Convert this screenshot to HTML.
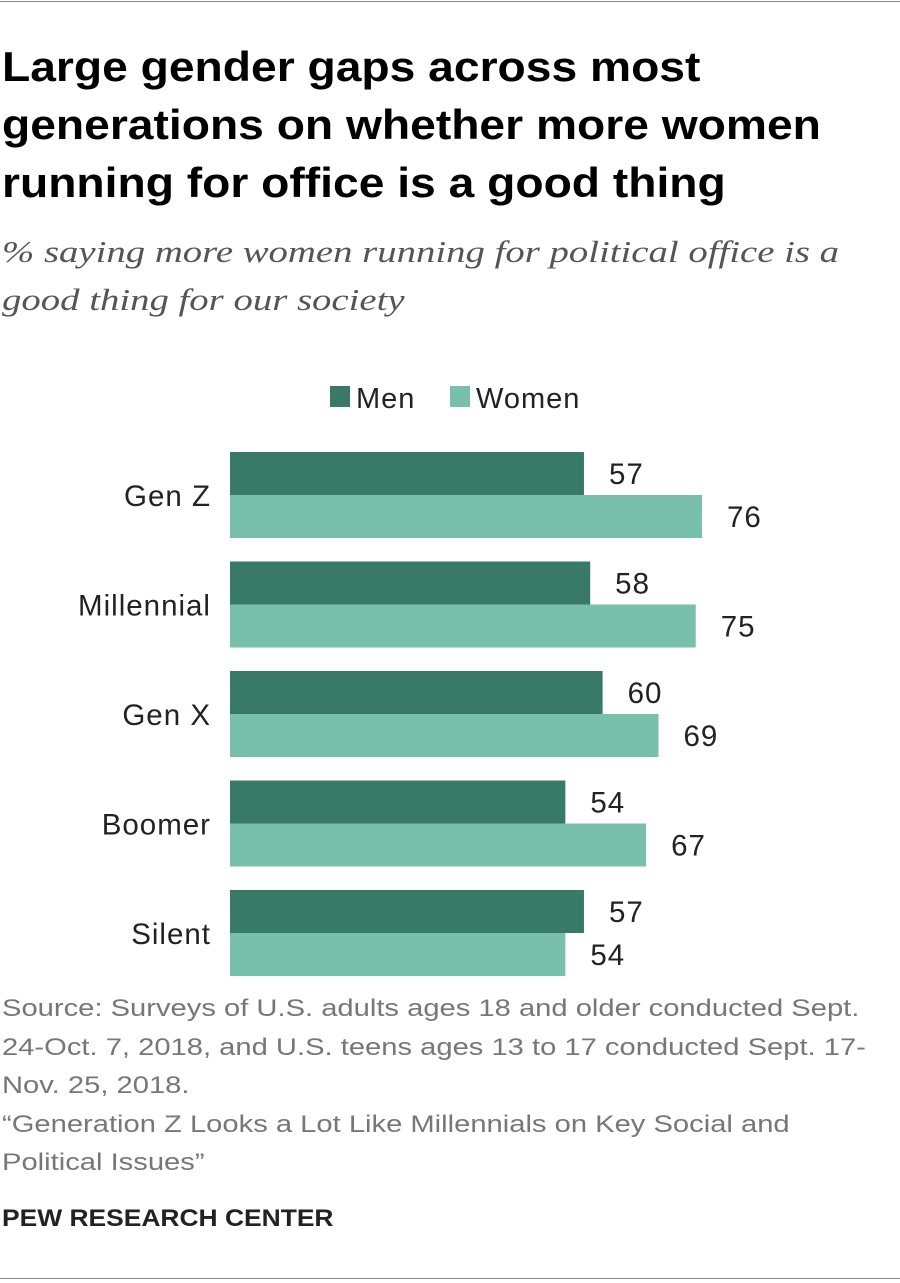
<!DOCTYPE html>
<html><head><meta charset="utf-8">
<style>
body{margin:0;width:900px;height:1283px;background:#fff;font-family:"Liberation Sans",sans-serif;position:relative;overflow:hidden}
.abs{position:absolute;transform-origin:0 0;white-space:nowrap}
#title{left:2px;top:38px;font-weight:bold;font-size:42px;line-height:58px;color:#000;transform:scaleX(1.1)}
#sub{left:2px;top:228px;font-family:"Liberation Serif",serif;font-style:italic;font-size:31px;line-height:48px;color:#555;transform:scaleX(1.25)}
#src{left:2px;top:990px;font-size:24.5px;line-height:38.5px;color:#777;transform:scaleX(1.19)}
#pew{left:2px;top:1205px;font-size:24px;font-weight:bold;color:#222;transform:scaleX(1.1)}
svg text{letter-spacing:1px}
</style></head><body>
<div class="abs" style="left:0;top:1px;width:900px;height:1px;background:#888"></div>
<div class="abs" id="title">Large gender gaps across most<br>generations on whether more women<br>running for office is a good thing</div>
<div class="abs" id="sub">% saying more women running for political office is a<br>good thing for our society</div>
<svg class="abs" style="left:0;top:0" width="900" height="1283">
<g id="legend"></g><g id="bars"></g>
</svg>
<div class="abs" id="src">Source: Surveys of U.S. adults ages 18 and older conducted Sept.<br>24-Oct. 7, 2018, and U.S. teens ages 13 to 17 conducted Sept. 17-<br>Nov. 25, 2018.<br>“Generation Z Looks a Lot Like Millennials on Key Social and<br>Political Issues”</div>
<div class="abs" id="pew">PEW RESEARCH CENTER</div>
<div class="abs" style="left:0;top:1278px;width:900px;height:1px;background:#888"></div>
<script>
const categories=["Gen Z","Millennial","Gen X","Boomer","Silent"];
const menValues=[57,58,60,54,57];
const womenValues=[76,75,69,67,54];
const seriesNames=["Men","Women"];
const colors=["#397968","#78bfac"];
const NS="http://www.w3.org/2000/svg";
const x0=230,pxPer=6.21,top0=452,pitch=109.5,bh=43;
const xs=v=>x0+v*pxPer;
const ys=i=>top0+i*pitch;
function mk(t,a,p){const e=document.createElementNS(NS,t);for(const k in a)e.setAttribute(k,a[k]);p.appendChild(e);return e;}
const lg=document.getElementById('legend');
const lx=[330,450];
seriesNames.forEach((n,i)=>{
 const r=mk('rect',{x:lx[i],y:386,width:20,height:21,fill:colors[i]},lg);
 
 
 const t=mk('text',{x:lx[i]+26,y:408,'font-size':29,fill:'#222'},lg);t.textContent=n;
 
 
});
const bg=document.getElementById('bars');
categories.forEach((c,i)=>{
 const y=ys(i);
 const cl=mk('text',{x:211,y:y+bh+11,'font-size':29.5,fill:'#222','text-anchor':'end'},bg);cl.textContent=c;
 
 
 [menValues[i],womenValues[i]].forEach((v,j)=>{
  const by=y+j*bh;
  const r=mk('rect',{x:x0,y:by,width:xs(v)-x0,height:bh,fill:colors[j]},bg);
  
  
  const t=mk('text',{x:xs(v)+25,y:by+32,'font-size':29.5,fill:'#222'},bg);t.textContent=v;
  
  
 });
});
</script>
</body></html>
